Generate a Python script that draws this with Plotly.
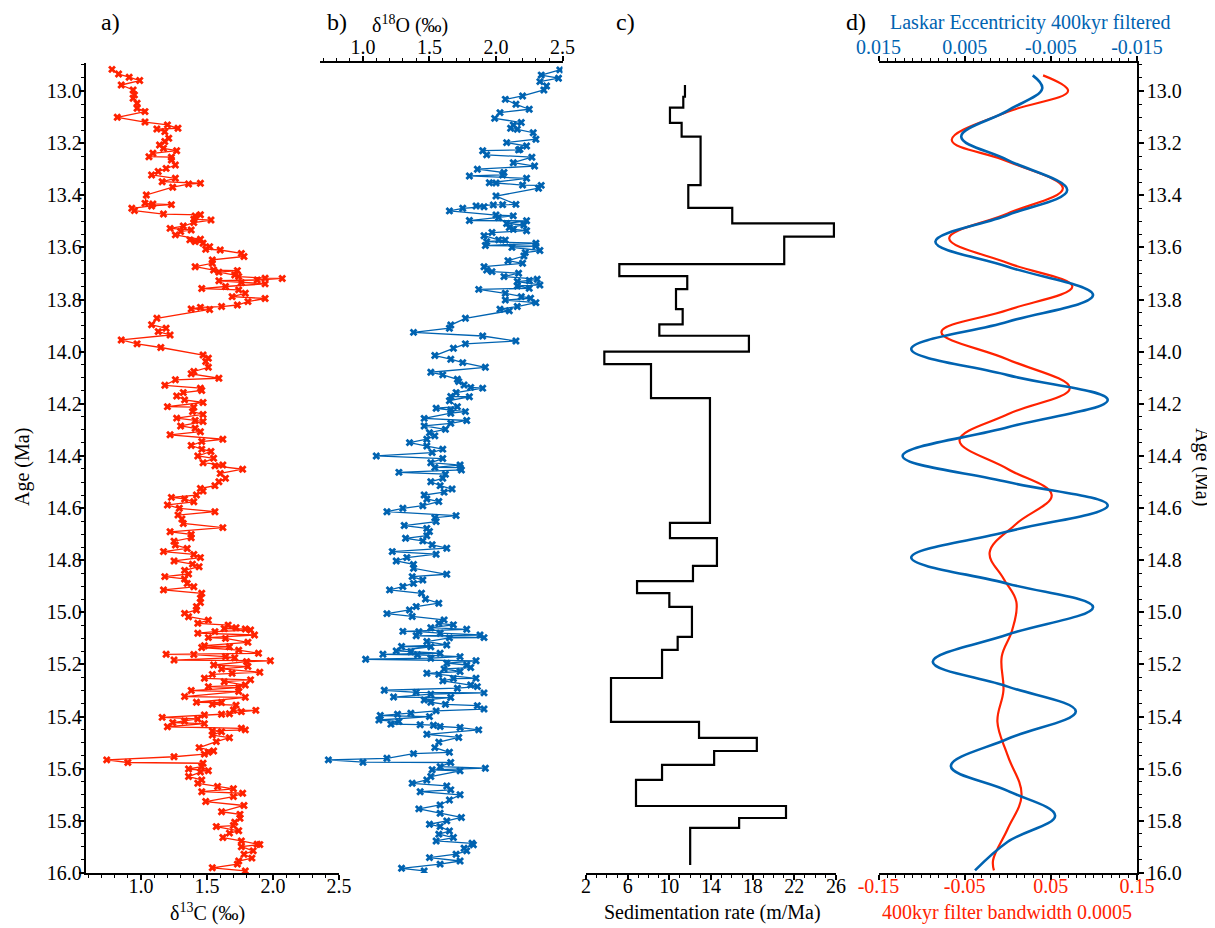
import numpy as np
import plotly.graph_objects as go

# ---------------- DATA ----------------
# a) delta13C (per mil) vs age (Ma)
c13_age = [
    12.917, 12.935, 12.947, 12.960, 12.977, 12.996, 13.015, 13.028, 13.047, 13.066,
    13.079, 13.101, 13.119, 13.130, 13.143, 13.146, 13.156, 13.181, 13.194, 13.207,
    13.220, 13.229, 13.239, 13.252, 13.254, 13.265, 13.284, 13.297, 13.309, 13.322,
    13.335, 13.348, 13.354, 13.357, 13.369, 13.399, 13.431, 13.433, 13.436, 13.441,
    13.450, 13.459, 13.472, 13.475, 13.479, 13.492, 13.495, 13.505, 13.518, 13.527,
    13.533, 13.539, 13.552, 13.569, 13.571, 13.578, 13.584, 13.597, 13.607, 13.610,
    13.623, 13.635, 13.648, 13.661, 13.674, 13.687, 13.689, 13.695, 13.706, 13.712,
    13.718, 13.719, 13.725, 13.728, 13.735, 13.740, 13.750, 13.758, 13.763, 13.776,
    13.789, 13.796, 13.808, 13.821, 13.827, 13.830, 13.836, 13.838, 13.872, 13.897,
    13.910, 13.923, 13.936, 13.955, 13.970, 13.984, 14.013, 14.025, 14.038, 14.060,
    14.076, 14.085, 14.102, 14.108, 14.129, 14.140, 14.149, 14.157, 14.170, 14.185,
    14.195, 14.211, 14.213, 14.230, 14.241, 14.255, 14.264, 14.268, 14.285, 14.294,
    14.307, 14.319, 14.336, 14.345, 14.360, 14.374, 14.383, 14.400, 14.409, 14.426,
    14.435, 14.438, 14.451, 14.467, 14.486, 14.499, 14.514, 14.525, 14.535, 14.550,
    14.559, 14.565, 14.576, 14.588, 14.601, 14.614, 14.627, 14.642, 14.659, 14.675,
    14.691, 14.701, 14.714, 14.727, 14.742, 14.755, 14.767, 14.778, 14.790, 14.803,
    14.815, 14.825, 14.839, 14.853, 14.863, 14.872, 14.889, 14.902, 14.914, 14.927,
    14.946, 14.962, 14.978, 14.991, 15.004, 15.017, 15.030, 15.042, 15.049, 15.059,
    15.062, 15.064, 15.068, 15.074, 15.080, 15.087, 15.097, 15.100, 15.115, 15.128,
    15.132, 15.135, 15.145, 15.157, 15.161, 15.162, 15.170, 15.174, 15.183, 15.186,
    15.189, 15.202, 15.208, 15.217, 15.230, 15.234, 15.238, 15.253, 15.259, 15.266,
    15.279, 15.285, 15.289, 15.300, 15.304, 15.323, 15.326, 15.345, 15.346, 15.353,
    15.356, 15.375, 15.376, 15.381, 15.389, 15.391, 15.394, 15.403, 15.409, 15.417,
    15.423, 15.427, 15.439, 15.445, 15.451, 15.455, 15.458, 15.471, 15.481, 15.496,
    15.519, 15.532, 15.537, 15.544, 15.554, 15.566, 15.576, 15.579, 15.592, 15.601,
    15.608, 15.613, 15.630, 15.643, 15.656, 15.668, 15.677, 15.688, 15.694, 15.707,
    15.726, 15.741, 15.765, 15.775, 15.790, 15.805, 15.818, 15.822, 15.838, 15.847,
    15.864, 15.877, 15.890, 15.891, 15.899, 15.915, 15.928, 15.943, 15.954, 15.966,
    15.980, 15.992,
]
c13_val = [
    0.78, 0.83, 0.91, 0.99, 0.85, 0.94, 0.95, 0.94, 0.97, 0.97,
    1.03, 0.82, 1.03, 1.20, 1.28, 1.12, 1.18, 1.21, 1.18, 1.14,
    1.17, 1.27, 1.09, 1.06, 1.23, 1.23, 1.26, 1.19, 1.13, 1.08,
    1.26, 1.16, 1.45, 1.36, 1.24, 1.04, 1.03, 1.09, 1.23, 1.08,
    0.93, 0.95, 1.17, 1.45, 1.41, 1.40, 1.53, 1.40, 1.32, 1.22,
    1.38, 1.30, 1.26, 1.45, 1.37, 1.41, 1.47, 1.52, 1.49, 1.60,
    1.76, 1.78, 1.54, 1.54, 1.41, 1.55, 1.73, 1.59, 1.71, 1.74,
    1.94, 2.07, 1.88, 1.59, 1.76, 1.94, 1.64, 1.46, 1.74, 1.79,
    1.69, 1.94, 1.81, 1.73, 1.61, 1.45, 1.38, 1.52, 1.12, 1.08,
    1.19, 1.13, 1.22, 0.85, 0.97, 1.15, 1.47, 1.51, 1.49, 1.51,
    1.40, 1.38, 1.59, 1.26, 1.18, 1.45, 1.46, 1.32, 1.27, 1.33,
    1.47, 1.20, 1.40, 1.39, 1.47, 1.27, 1.41, 1.47, 1.30, 1.41,
    1.45, 1.22, 1.62, 1.46, 1.38, 1.46, 1.53, 1.43, 1.55, 1.47,
    1.62, 1.56, 1.77, 1.60, 1.64, 1.59, 1.56, 1.45, 1.47, 1.42,
    1.23, 1.33, 1.40, 1.20, 1.29, 1.56, 1.28, 1.31, 1.32, 1.62,
    1.22, 1.38, 1.38, 1.25, 1.26, 1.35, 1.17, 1.40, 1.45, 1.25,
    1.39, 1.44, 1.33, 1.36, 1.18, 1.33, 1.35, 1.40, 1.17, 1.46,
    1.45, 1.45, 1.42, 1.42, 1.33, 1.36, 1.51, 1.43, 1.66, 1.72,
    1.63, 1.79, 1.83, 1.56, 1.43, 1.86, 1.51, 1.64, 1.81, 1.48,
    1.67, 1.46, 1.74, 1.89, 1.19, 1.40, 1.64, 1.71, 1.25, 1.98,
    1.80, 1.55, 1.81, 1.61, 1.90, 1.69, 1.54, 1.48, 1.83, 1.63,
    1.79, 1.51, 1.74, 1.38, 1.74, 1.33, 1.79, 1.42, 1.61, 1.54,
    1.72, 1.70, 1.87, 1.76, 1.67, 1.61, 1.48, 1.16, 1.43, 1.33,
    1.24, 1.48, 1.20, 1.76, 1.79, 1.54, 1.61, 1.54, 1.67, 1.57,
    1.44, 1.55, 1.51, 1.48, 1.25, 0.74, 0.90, 1.47, 1.46, 1.36,
    1.51, 1.45, 1.36, 1.46, 1.43, 1.58, 1.70, 1.46, 1.77, 1.70,
    1.49, 1.78, 1.61, 1.75, 1.75, 1.71, 1.70, 1.57, 1.74, 1.67,
    1.62, 1.76, 1.88, 1.90, 1.76, 1.85, 1.78, 1.84, 1.74, 1.73,
    1.54, 1.79,
]

# b) delta18O (per mil) vs age (Ma)
o18_age = [
    12.919, 12.939, 12.951, 12.964, 12.981, 12.996, 13.019, 13.032, 13.051, 13.070,
    13.083, 13.105, 13.121, 13.130, 13.143, 13.147, 13.160, 13.185, 13.198, 13.211,
    13.224, 13.226, 13.229, 13.245, 13.254, 13.275, 13.288, 13.300, 13.313, 13.322,
    13.326, 13.335, 13.352, 13.353, 13.361, 13.362, 13.373, 13.403, 13.435, 13.436,
    13.437, 13.441, 13.444, 13.450, 13.460, 13.476, 13.479, 13.485, 13.497, 13.498,
    13.508, 13.514, 13.524, 13.531, 13.536, 13.543, 13.555, 13.571, 13.572, 13.578,
    13.584, 13.593, 13.595, 13.600, 13.612, 13.620, 13.633, 13.651, 13.661, 13.674,
    13.687, 13.693, 13.699, 13.712, 13.722, 13.727, 13.731, 13.744, 13.748, 13.757,
    13.761, 13.776, 13.789, 13.795, 13.802, 13.812, 13.827, 13.837, 13.843, 13.872,
    13.898, 13.910, 13.926, 13.940, 13.959, 13.970, 13.987, 14.015, 14.029, 14.042,
    14.060, 14.079, 14.089, 14.106, 14.115, 14.128, 14.137, 14.140, 14.157, 14.172,
    14.173, 14.188, 14.211, 14.217, 14.224, 14.230, 14.236, 14.256, 14.264, 14.275,
    14.285, 14.298, 14.311, 14.323, 14.336, 14.349, 14.362, 14.374, 14.387, 14.400,
    14.410, 14.426, 14.435, 14.444, 14.445, 14.454, 14.463, 14.470, 14.486, 14.499,
    14.514, 14.527, 14.539, 14.550, 14.565, 14.575, 14.591, 14.601, 14.614, 14.629,
    14.637, 14.652, 14.667, 14.678, 14.690, 14.706, 14.716, 14.726, 14.741, 14.754,
    14.767, 14.777, 14.790, 14.803, 14.816, 14.831, 14.854, 14.863, 14.876, 14.889,
    14.901, 14.914, 14.927, 14.949, 14.965, 14.978, 14.991, 15.005, 15.016, 15.029,
    15.042, 15.048, 15.059, 15.065, 15.073, 15.074, 15.080, 15.087, 15.090, 15.097,
    15.098, 15.112, 15.125, 15.131, 15.132, 15.148, 15.151, 15.157, 15.161, 15.163,
    15.170, 15.176, 15.180, 15.186, 15.195, 15.202, 15.212, 15.217, 15.227, 15.234,
    15.238, 15.253, 15.254, 15.263, 15.279, 15.285, 15.291, 15.299, 15.307, 15.309,
    15.314, 15.325, 15.327, 15.336, 15.345, 15.353, 15.358, 15.371, 15.378, 15.387,
    15.391, 15.396, 15.400, 15.413, 15.419, 15.429, 15.431, 15.433, 15.438, 15.442,
    15.451, 15.468, 15.480, 15.498, 15.519, 15.537, 15.542, 15.560, 15.566, 15.575,
    15.576, 15.592, 15.598, 15.604, 15.608, 15.630, 15.643, 15.656, 15.666, 15.681,
    15.688, 15.700, 15.720, 15.739, 15.754, 15.771, 15.787, 15.800, 15.813, 15.822,
    15.839, 15.851, 15.864, 15.877, 15.886, 15.892, 15.905, 15.915, 15.928, 15.941,
    15.954, 15.966, 15.982, 15.992,
]
o18_val = [
    2.48, 2.34, 2.47, 2.33, 2.38, 2.36, 2.20, 2.07, 2.15, 2.25,
    2.03, 1.99, 2.19, 2.13, 2.11, 2.16, 2.28, 2.30, 2.08, 2.23,
    2.18, 2.17, 1.90, 1.93, 2.27, 2.13, 2.29, 1.86, 2.06, 2.05,
    1.80, 2.23, 1.95, 2.00, 2.20, 2.34, 2.32, 2.00, 2.15, 2.05,
    1.98, 1.85, 1.91, 1.75, 1.65, 2.00, 2.13, 2.02, 1.80, 2.23,
    2.08, 2.21, 2.10, 2.13, 2.23, 1.97, 1.91, 2.02, 2.07, 1.93,
    2.30, 1.92, 2.30, 2.12, 2.33, 2.22, 2.21, 2.09, 2.20, 1.91,
    1.93, 1.97, 2.17, 2.06, 2.31, 2.25, 2.16, 2.33, 2.16, 2.25,
    1.87, 2.07, 2.19, 2.26, 2.07, 2.30, 2.16, 2.03, 2.10, 1.77,
    1.66, 1.65, 1.38, 1.90, 2.15, 1.77, 1.68, 1.54, 1.66, 1.75,
    1.92, 1.51, 1.60, 1.71, 1.72, 1.76, 1.81, 1.90, 1.70, 1.66,
    1.80, 1.65, 1.71, 1.55, 1.66, 1.77, 1.66, 1.46, 1.78, 1.66,
    1.46, 1.62, 1.50, 1.54, 1.48, 1.35, 1.48, 1.60, 1.52, 1.10,
    1.60, 1.51, 1.73, 1.54, 1.73, 1.74, 1.27, 1.62, 1.60, 1.51,
    1.58, 1.67, 1.61, 1.46, 1.48, 1.57, 1.45, 1.30, 1.18, 1.70,
    1.54, 1.55, 1.31, 1.48, 1.50, 1.48, 1.32, 1.45, 1.52, 1.63,
    1.22, 1.55, 1.33, 1.25, 1.38, 1.38, 1.63, 1.37, 1.45, 1.38,
    1.30, 1.20, 1.44, 1.47, 1.57, 1.40, 1.35, 1.18, 1.37, 1.61,
    1.57, 1.68, 1.51, 1.78, 1.30, 1.42, 1.58, 1.88, 1.40, 1.91,
    1.65, 1.48, 1.63, 1.29, 1.51, 1.25, 1.36, 1.58, 1.15, 1.41,
    1.73, 1.51, 1.02, 1.85, 1.63, 1.78, 1.81, 1.61, 1.73, 1.48,
    1.57, 1.85, 1.68, 1.60, 1.81, 1.86, 1.71, 1.16, 1.40, 1.91,
    1.51, 1.23, 1.66, 1.46, 1.51, 1.62, 1.86, 1.91, 1.55, 1.36,
    1.26, 1.13, 1.50, 1.12, 1.27, 1.21, 1.43, 1.53, 1.58, 1.73,
    1.87, 1.48, 1.72, 1.57, 1.54, 1.65, 1.38, 1.18, 0.74, 1.00,
    1.66, 1.58, 1.92, 1.52, 1.73, 1.51, 1.48, 1.37, 1.63, 1.66,
    1.43, 1.73, 1.65, 1.58, 1.42, 1.58, 1.74, 1.63, 1.50, 1.58,
    1.65, 1.57, 1.68, 1.55, 1.82, 1.83, 1.76, 1.78, 1.70, 1.50,
    1.73, 1.58, 1.29, 1.46,
]

# c) sedimentation rate (m/Ma): interval boundaries (Ma) and rates
sed_bounds = [12.977, 13.022, 13.064, 13.122, 13.175, 13.361, 13.448, 13.508, 13.559,
              13.664, 13.710, 13.760, 13.837, 13.895, 13.939, 14.000, 14.048, 14.178,
              14.657, 14.715, 14.822, 14.880, 14.926, 14.979, 15.094, 15.144, 15.252,
              15.420, 15.482, 15.532, 15.585, 15.643, 15.743, 15.789, 15.827, 15.969]
sed_rate = [11.5, 11.34, 10.06, 11.18, 13.0, 11.82, 16.04, 25.8, 21.03,
            5.2, 11.72, 10.64, 11.28, 9.04, 17.64, 3.76, 8.24, 13.9,
            10.06, 14.57, 12.27, 6.9, 10.0, 12.17, 10.8, 9.3, 4.4,
            12.85, 18.4, 14.3, 9.3, 6.8, 21.2, 16.7, 12.0]

# d) Laskar eccentricity 400 kyr filtered (blue, top axis)
ecc_age = [12.94, 12.99, 13.075, 13.175, 13.265, 13.38, 13.476, 13.578, 13.674, 13.783,
           13.885, 13.99, 14.09, 14.185, 14.29, 14.40, 14.50, 14.59, 14.69, 14.79,
           14.89, 14.98, 15.085, 15.19, 15.285, 15.38, 15.485, 15.59, 15.685, 15.78,
           15.88, 15.99]
ecc_val = [-0.0029, -0.0040, 0.0, 0.0054, 0.0, -0.0069, 0.0, 0.0084, 0.0, -0.0099,
           0.0, 0.0112, 0.0, -0.0116, 0.0, 0.0122, 0.0, -0.0116, 0.0, 0.0112,
           0.0, -0.0099, 0.0, 0.0087, 0.0, -0.0079, 0.0, 0.0066, 0.0, -0.0055,
           0.0, 0.0038]

# d) 400 kyr filter of the data, bandwidth 0.0005 (red, bottom axis)
filt_age = [12.94, 13.00, 13.08, 13.188, 13.27, 13.373, 13.47, 13.565, 13.66, 13.75,
            13.84, 13.925, 14.03, 14.14, 14.24, 14.34, 14.45, 14.55, 14.66, 14.77,
            14.87, 14.96, 15.07, 15.17, 15.30, 15.42, 15.55, 15.70, 15.83, 15.95, 15.99]
filt_val = [0.041, 0.070, 0.0, -0.065, 0.0, 0.064, 0.0, -0.068, 0.0, 0.075,
            0.0, -0.077, 0.0, 0.072, 0.0, -0.056, 0.0, 0.051, 0.010, -0.021,
            -0.005, 0.010, 0.005, -0.007, -0.005, -0.012, 0.0, 0.016, 0.0, -0.017, -0.016]

# tick labels of panel d (hyphen-minus as printed)
filt_ticks = [-0.15, -0.05, 0.05, 0.15]
filt_ticktext = ["-0.15", "-0.05", "0.05", "0.15"]
ecc_ticks = [0.015, 0.005, -0.005, -0.015]
ecc_ticktext = ["0.015", "0.005", "-0.005", "-0.015"]

# ---------------- STYLE / LAYOUT ----------------
OFF = 8                      # page body margin of the browser
W, H = 1215 - OFF, 928 - OFF
RED = "#ff2200"
BLUE = "#0063b1"
FONT = "Liberation Serif, Times New Roman, serif"


def px(x):
    return (x - OFF) / W


def py(y):
    return 1 - (y - OFF) / H


ydom = [py(873), py(63)]
yrange = [16.0, 12.8926]

fig = go.Figure()

fig.add_trace(go.Scatter(x=c13_val, y=c13_age, mode="lines+markers",
                         line=dict(color=RED, width=1.3),
                         marker=dict(symbol="x", size=7, color=RED),
                         xaxis="x", yaxis="y", showlegend=False))
fig.add_trace(go.Scatter(x=o18_val, y=o18_age, mode="lines+markers",
                         line=dict(color=BLUE, width=1.3),
                         marker=dict(symbol="x", size=7, color=BLUE),
                         xaxis="x2", yaxis="y", showlegend=False))

sed_x = np.repeat(np.array(sed_rate), 2)
sed_b = np.array(sed_bounds)
sed_y = np.column_stack([sed_b[:-1], sed_b[1:]]).ravel()
fig.add_trace(go.Scatter(x=sed_x, y=sed_y, mode="lines",
                         line=dict(color="black", width=2.2),
                         xaxis="x3", yaxis="y", showlegend=False))

fig.add_trace(go.Scatter(x=ecc_val, y=ecc_age, mode="lines",
                         line=dict(color=BLUE, width=2.6, shape="spline", smoothing=1.1),
                         xaxis="x5", yaxis="y2", showlegend=False))
fig.add_trace(go.Scatter(x=filt_val, y=filt_age, mode="lines",
                         line=dict(color=RED, width=2.2, shape="spline", smoothing=1.1),
                         xaxis="x4", yaxis="y2", showlegend=False))


def base_ticks(inside, mdt, tick0=None):
    mn = dict(dtick=mdt, ticks="inside" if inside else "outside",
              ticklen=3, tickwidth=1.2, tickcolor="black")
    if tick0 is not None:
        mn["tick0"] = tick0
    return dict(ticks="inside" if inside else "outside",
                ticklen=3 if inside else 5, tickwidth=1.5, tickcolor="black",
                minor=mn, showgrid=False, zeroline=False, automargin=False)


def xax(dom, rng, tick0, dtick, mdt, fmt, side, anchor, color="black", standoff=0,
        inside=False, **kw):
    d = dict(domain=dom, range=rng, tick0=tick0, dtick=dtick, tickformat=fmt,
             side=side, anchor=anchor,
             showline=not inside, linecolor="black", linewidth=1.5,
             showticklabels=not inside, ticklabelstandoff=standoff,
             tickfont=dict(family=FONT, size=20, color=color))
    d.update(base_ticks(inside, mdt, tick0))
    d.update(kw)
    return d


def yax(anchor, side, standoff=0, inside=False, **kw):
    d = dict(domain=ydom, range=yrange, anchor=anchor, side=side,
             tick0=13.0, dtick=0.2, tickformat=".1f",
             showline=not inside, linecolor="black", linewidth=1.5,
             showticklabels=not inside, ticklabelstandoff=standoff,
             tickfont=dict(family=FONT, size=20, color="black"))
    d.update(base_ticks(inside, 0.05, 13.0))
    d.update(kw)
    return d


xspecs = {
    "a": dict(dom=[px(85.6), px(339)], rng=[0.58, 2.5], tick0=1.0, dtick=0.5, mdt=0.1,
              fmt=".1f", side="bottom", anchor="y", standoff=-11),
    "b": dict(dom=[px(320.4), px(562.5)], rng=[0.68, 2.5], tick0=1.0, dtick=0.5, mdt=0.1,
              fmt=".1f", side="top", anchor="y", standoff=-6),
    "c": dict(dom=[px(586), px(836)], rng=[2, 26], tick0=2, dtick=4, mdt=1,
              fmt="d", side="bottom", anchor="y", standoff=-11),
    "d_bot": dict(dom=[px(878.5), px(1137)], rng=[-0.15, 0.15], tick0=-0.15, dtick=0.1,
                  mdt=0.01, fmt=".2f", side="bottom", anchor="y2", standoff=-11, color=RED,
                  tickmode="array", tickvals=filt_ticks, ticktext=filt_ticktext),
    "d_top": dict(dom=[px(878.5), px(1137)], rng=[0.015, -0.015], tick0=0.015, dtick=0.01,
                  mdt=0.001, fmt=".3f", side="top", anchor="y2", standoff=-6, color=BLUE,
                  tickmode="array", tickvals=ecc_ticks, ticktext=ecc_ticktext),
}

layout_axes = {
    "xaxis": xax(**xspecs["a"]),
    "xaxis2": xax(**xspecs["b"]),
    "xaxis3": xax(**xspecs["c"]),
    "xaxis4": xax(**xspecs["d_bot"]),
    "xaxis5": xax(**xspecs["d_top"], overlaying="x4"),
    "yaxis": yax("x", "left", standoff=-7),
    "yaxis2": yax("x4", "right", standoff=-1, overlaying="y"),
    # second copies drawing the inner half of the crossing tick marks
    "xaxis6": xax(**xspecs["a"], inside=True),
    "xaxis7": xax(**xspecs["b"], inside=True),
    "xaxis8": xax(**xspecs["c"], inside=True),
    "xaxis9": xax(**xspecs["d_bot"], inside=True),
    "xaxis10": xax(**xspecs["d_top"], inside=True),
    "yaxis3": yax("x", "left", inside=True),
    "yaxis4": yax("x4", "right", inside=True),
}

fig.update_layout(
    width=W, height=H,
    margin=dict(l=0, r=0, t=0, b=0, autoexpand=False),
    paper_bgcolor="white", plot_bgcolor="rgba(0,0,0,0)",
    font=dict(family=FONT, size=20, color="black"),
    **layout_axes,
)

ann = [
    ("a)", 110, 22, "black", 24, 0),
    ("b)", 337, 22, "black", 24, 0),
    ("c)", 626, 22, "black", 24, 0),
    ("d)", 856, 22, "black", 24, 0),
    ("δ<sup>18</sup>O (‰)", 410, 24, "black", 20, 0),
    ("Laskar Eccentricity 400kyr filtered", 1030, 22, BLUE, 20, 0),
    ("δ<sup>13</sup>C (‰)", 207, 912, "black", 20, 0),
    ("Sedimentation rate (m/Ma)", 712, 912, "black", 20, 0),
    ("400kyr filter bandwidth 0.0005", 1007, 912, RED, 20, 0),
    ("Age (Ma)", 22, 467, "black", 20, -90),
    ("Age (Ma)", 1203, 467, "black", 20, 90),
]
for text, x, y, col, size, ang in ann:
    fig.add_annotation(text=text, x=px(x), y=py(y), xref="paper", yref="paper",
                       showarrow=False, xanchor="center", yanchor="middle",
                       textangle=ang, font=dict(family=FONT, size=size, color=col))

fig.write_html("out.html")
